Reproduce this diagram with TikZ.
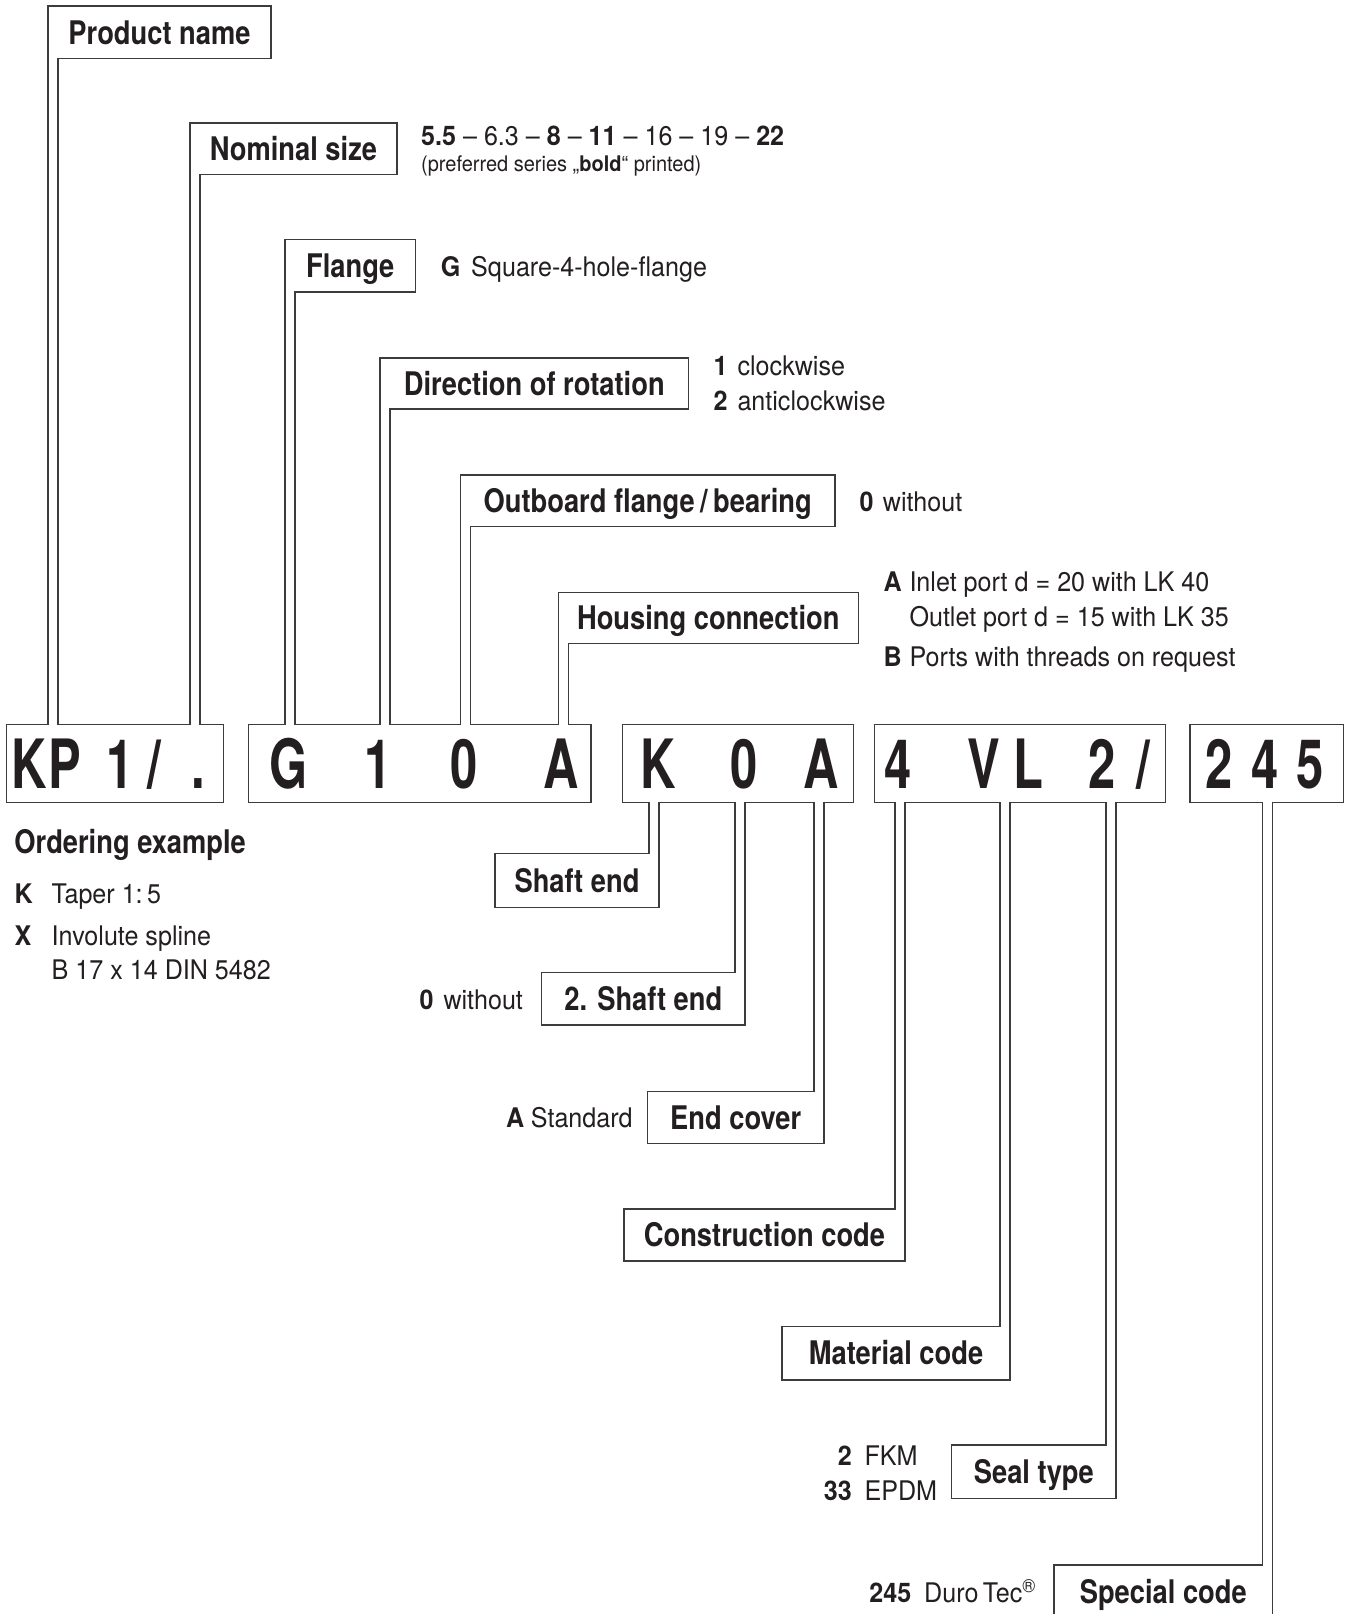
\documentclass[tikz,border=0pt]{standalone}
\usepackage{fontspec}
\setmainfont{TeX Gyre Heros}[FakeStretch=0.93]
\newfontfamily\lblfont{TeX Gyre Heros}[FakeStretch=0.84]
\newfontfamily\codefont{TeX Gyre Heros}[FakeStretch=0.72]
\usetikzlibrary{calc}
\definecolor{txt}{RGB}{35,31,32}
\definecolor{lc}{RGB}{60,60,60}
\tikzset{
 ln/.style={draw=lc, line width=1.3pt, line join=miter},
 lbox/.style={inner sep=0pt, outer sep=0pt, text=txt, font=\lblfont\bfseries\fontsize{32.5}{36}\selectfont, text height=23.5pt, text depth=0pt},
 cbox/.style={draw=lc, line width=1.3pt, inner sep=0pt, outer sep=0pt, minimum height=78.4pt},
 cch/.style={anchor=base, inner sep=0pt, text=txt, font=\codefont\bfseries\fontsize{68}{70}\selectfont},
 desc/.style={anchor=base west, inner sep=0pt, text=txt, font=\fontsize{27}{32}\selectfont},
 descb/.style={anchor=base west, inner sep=0pt, text=txt, font=\bfseries\fontsize{27}{32}\selectfont},
 descbe/.style={anchor=base east, inner sep=0pt, text=txt, font=\bfseries\fontsize{27}{32}\selectfont},
}
\newcommand\mylegup[2]{%
 \coordinate (#1-r) at ($(#1.south west)+(10,0)$);
 \fill[white] ($(#1.south west |- #2.north)+(0.8,-1.3)$) rectangle ($(#1-r |- #2.north)+(-0.8,1.3)$);
 \draw[ln] (#1.south west |- #2.north) -- (#1.north west) -- (#1.north east) -- (#1.south east) -- (#1-r) -- (#1-r |- #2.north);
}
\newcommand\mylegdown[2]{%
 \coordinate (#1-l) at ($(#1.north east)+(-10,0)$);
 \fill[white] ($(#1-l |- #2.south)+(0.8,-1.3)$) rectangle ($(#1.north east |- #2.south)+(-0.8,1.3)$);
 \draw[ln] (#1-l |- #2.south) -- (#1-l) -- (#1.north west) -- (#1.south west) -- (#1.south east) -- (#1.north east |- #2.south);
}
\begin{document}
\begin{tikzpicture}[x=1pt,y=-1pt]
\useasboundingbox (0,0) rectangle (1345,1614);
\clip (0,0) rectangle (1345,1614);
\fill[white] (0,0) rectangle (1345,1614);

% code boxes
\node[cbox, minimum width=216.6pt] (A) at (115,763.5) {};
\node[cbox, minimum width=342.7pt] (B) at (419.65,763.5) {};
\node[cbox, minimum width=230.6pt] (C) at (738,763.5) {};
\node[cbox, minimum width=291.4pt] (D) at (1020,763.5) {};
\node[cbox, minimum width=153.3pt] (E) at (1266.65,763.5) {};

% code characters
\node[cch] (k1) at (29,788.3) {K};
\node[cch] (k2) at (65,788.3) {P};
\node[cch] (k3) at (120,788.3) {1};
\node[cch] (k4) at (154.5,788.3) {/};
\node[cch] (k5) at (198,788.3) {.};
\node[cch] (k6) at (289,788.3) {G};
\node[cch] (k7) at (378,788.3) {1};
\node[cch] (k8) at (464.5,788.3) {0};
\node[cch] (k9) at (561.5,788.3) {A};
\node[cch] (k10) at (658,788.3) {K};
\node[cch] (k11) at (744,788.3) {0};
\node[cch] (k12) at (821.5,788.3) {A};
\node[cch] (k13) at (898.5,788.3) {4};
\node[cch] (k14) at (983.5,788.3) {V};
\node[cch] (k15) at (1028.5,788.3) {L};
\node[cch] (k16) at (1102.5,788.3) {2};
\node[cch] (k17) at (1143,788.3) {/};
\node[cch] (k18) at (1219,788.3) {2};
\node[cch] (k19) at (1265,788.3) {4};
\node[cch] (k20) at (1310,788.3) {5};

% label boxes (upper)
\node[lbox, minimum width=223pt, minimum height=52.5pt] (P) at (159.5,32.25) {Product name};
\node[lbox, minimum width=207pt, minimum height=51.5pt] (N) at (293.5,148.75) {Nominal size};
\node[lbox, minimum width=130.5pt, minimum height=52.5pt] (F) at (350.25,265.75) {Flange};
\node[lbox, minimum width=308.5pt, minimum height=51pt] (DR) at (534.25,383.5) {Direction of rotation};
\node[lbox, minimum width=374.5pt, minimum height=51.7pt] (O) at (647.75,500.85) {Outboard flange\,/\,bearing};
\node[lbox, minimum width=300pt, minimum height=51pt] (H) at (708.3,617.8) {Housing connection};

% label boxes (lower)
\node[lbox, minimum width=164pt, minimum height=54pt] (SE) at (577,880.3) {Shaft end};
\node[lbox, minimum width=203.3pt, minimum height=52.7pt] (S2) at (643.35,998.65) {2. Shaft end};
\node[lbox, minimum width=176.7pt, minimum height=51.6pt] (EC) at (735.65,1117.5) {End cover};
\node[lbox, minimum width=281pt, minimum height=52pt] (CC) at (764.5,1235) {Construction code};
\node[lbox, minimum width=228pt, minimum height=53.7pt] (MC) at (896,1353.15) {Material code};
\node[lbox, minimum width=164.3pt, minimum height=53.7pt] (ST) at (1033.85,1471.85) {Seal type};
\node[lbox, minimum width=218.5pt, minimum height=54pt] (SC) at (1163.25,1592) {Special code};

% connectors
\mylegup{P}{A}
\mylegup{N}{A}
\mylegup{F}{B}
\mylegup{DR}{B}
\mylegup{O}{B}
\mylegup{H}{B}
\mylegdown{SE}{C}
\mylegdown{S2}{C}
\mylegdown{EC}{C}
\mylegdown{CC}{D}
\mylegdown{MC}{D}
\mylegdown{ST}{D}
\mylegdown{SC}{E}

% descriptions
\node[desc] (t1) at (421,145) {\textbf{5.5} – 6.3 – \textbf{8} – \textbf{11} – 16 – 19 – \textbf{22}};
\node[desc, font=\fontsize{21.5}{26}\selectfont] (t2) at (421,171) {(preferred series „\textbf{bold}“ printed)};
\node[descb] (t3) at (440.7,276) {G};
\node[desc] (t4) at (471,276) {Square-4-hole-flange};
\node[descb] (t5) at (713.3,375) {1};
\node[desc] (t6) at (737.3,375) {clockwise};
\node[descb] (t7) at (713.3,410) {2};
\node[desc] (t8) at (737.3,410) {anticlockwise};
\node[descb] (t9) at (859.3,511.7) {0};
\node[desc] (t10) at (882.7,511.7) {without};
\node[descb] (t11) at (883.3,591.7) {A};
\node[desc] (t12) at (909.3,591.7) {Inlet port d = 20 with LK 40};
\node[desc] (t13) at (909.3,626.7) {Outlet port d = 15 with LK 35};
\node[descb] (t14) at (883.3,666) {B};
\node[desc] (t15) at (909.3,666) {Ports with threads on request};

\node[lbox, anchor=base west] (OE) at (14.4,853) {Ordering example};
\node[descb] (t16) at (14.4,903) {K};
\node[desc] (t17) at (51.5,903) {Taper 1:\,5};
\node[descb] (t18) at (14.4,945.7) {X};
\node[desc] (t19) at (51.5,945.7) {Involute spline};
\node[desc] (t20) at (51.5,979.6) {B 17 x 14 DIN 5482};

\node[descb] (t21) at (419.3,1009) {0};
\node[desc] (t22) at (443.3,1009) {without};
\node[descb] (t23) at (506,1127.3) {A};
\node[desc] (t24) at (530.7,1127.3) {Standard};
\node[descbe] (t25) at (852,1465.7) {2};
\node[desc] (t26) at (864.3,1465.7) {FKM};
\node[descbe] (t27) at (852,1500) {33};
\node[desc] (t28) at (864.3,1500) {EPDM};
\node[descbe] (t29) at (911.5,1602) {245};
\node[desc] (t30) at (924,1602) {Duro\,Tec\textsuperscript{®}};
\end{tikzpicture}
\end{document}
